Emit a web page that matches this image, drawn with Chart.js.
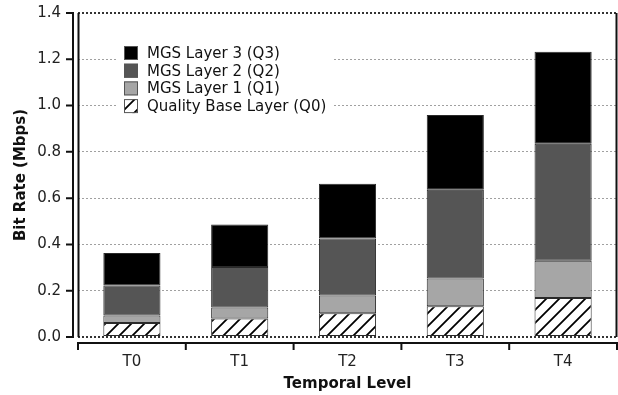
<!DOCTYPE html>
<html>
<head>
<meta charset="utf-8">
<script src="https://cdn.jsdelivr.net/npm/chart.js@4"></script>
<style>
  html, body { margin: 0; padding: 0; background: #fff; }
  #wrap { width: 618px; height: 395px; }
</style>
</head>
<body>
<div id="wrap"><canvas id="chart"></canvas></div>
<script>
  // Chart values (Mbps per layer, stacked bottom to top)
  const levels = ['T0', 'T1', 'T2', 'T3', 'T4'];
  const baseLayerQ0 = [0.060, 0.080, 0.103, 0.133, 0.168];
  const mgsLayerQ1 = [0.033, 0.047, 0.076, 0.120, 0.161];
  const mgsLayerQ2 = [0.129, 0.175, 0.247, 0.383, 0.506];
  const mgsLayerQ3 = [0.141, 0.184, 0.236, 0.323, 0.398];
  const yTicks = [0, 0.2, 0.4, 0.6, 0.8, 1.0, 1.2, 1.4];

  Chart.defaults.font.family = "'DejaVu Sans', sans-serif";
  Chart.defaults.font.size = 15;
  Chart.defaults.color = '#222';

  // Diagonal hatch for the quality base layer
  function makeHatch() {
    const s = 13;
    const c = document.createElement('canvas');
    c.width = s;
    c.height = s;
    const g = c.getContext('2d');
    g.fillStyle = '#fff';
    g.fillRect(0, 0, s, s);
    g.strokeStyle = '#000';
    g.lineWidth = 1.8;
    g.beginPath();
    g.moveTo(0, s); g.lineTo(s, 0);
    g.moveTo(-2, 2); g.lineTo(2, -2);
    g.moveTo(s - 2, s + 2); g.lineTo(s + 2, s - 2);
    g.stroke();
    return document.getElementById('chart').getContext('2d').createPattern(c, 'repeat');
  }
  const hatch = makeHatch();

  // Frame, detached axes and the inset legend
  const framePlugin = {
    id: 'frame',
    afterDraw(chart) {
      const ctx = chart.ctx;
      const { left, right, top, bottom } = chart.chartArea;
      const xs = chart.scales.x;
      const ys = chart.scales.y;
      ctx.save();
      ctx.strokeStyle = '#111';

      // plot box sides
      ctx.lineWidth = 2;
      ctx.beginPath();
      ctx.moveTo(left + 0.5, top);
      ctx.lineTo(left + 0.5, bottom);
      ctx.moveTo(right - 0.5, top);
      ctx.lineTo(right - 0.5, bottom);
      ctx.stroke();

      // y spine with ticks, set off to the left
      const ySpine = left - 5;
      ctx.beginPath();
      ctx.moveTo(ySpine, ys.getPixelForValue(1.4));
      ctx.lineTo(ySpine, ys.getPixelForValue(0));
      yTicks.forEach(v => {
        const py = ys.getPixelForValue(v);
        ctx.moveTo(ySpine - 7, py);
        ctx.lineTo(ySpine + 1, py);
      });
      ctx.stroke();

      // x spine with ticks at category boundaries
      const xSpine = bottom + 6;
      const w = xs.getPixelForValue(1) - xs.getPixelForValue(0);
      ctx.beginPath();
      ctx.moveTo(left, xSpine);
      ctx.lineTo(right, xSpine);
      for (let i = 0; i <= levels.length; i++) {
        const px = xs.getPixelForValue(i) - w / 2;
        ctx.moveTo(px, xSpine - 1);
        ctx.lineTo(px, xSpine + 7);
      }
      ctx.stroke();

      // legend (top layer first)
      const lx = 117, ly = 40;
      ctx.fillStyle = '#fff';
      ctx.fillRect(lx, ly, 216, 78);
      const items = chart.data.datasets.slice().reverse();
      ctx.font = "15px 'DejaVu Sans', sans-serif";
      ctx.textBaseline = 'middle';
      items.forEach((ds, i) => {
        const cy = 53 + i * 17.7;
        ctx.fillStyle = ds.backgroundColor;
        ctx.fillRect(lx + 7, cy - 7, 14, 14);
        ctx.lineWidth = 1;
        ctx.strokeStyle = '#555';
        ctx.strokeRect(lx + 7.5, cy - 6.5, 13, 13);
        ctx.fillStyle = '#111';
        ctx.fillText(ds.label, lx + 30, cy + 1);
      });
      ctx.restore();
    }
  };

  const barStyle = {
    borderColor: '#2a2a2a',
    borderWidth: 1,
    borderSkipped: false,
    barPercentage: 0.53,
    categoryPercentage: 1.0
  };

  new Chart(document.getElementById('chart'), {
    type: 'bar',
    data: {
      labels: levels,
      datasets: [
        Object.assign({ label: 'Quality Base Layer (Q0)', data: baseLayerQ0, backgroundColor: hatch }, barStyle),
        Object.assign({ label: 'MGS Layer 1 (Q1)', data: mgsLayerQ1, backgroundColor: '#a6a6a6' }, barStyle),
        Object.assign({ label: 'MGS Layer 2 (Q2)', data: mgsLayerQ2, backgroundColor: '#555555' }, barStyle),
        Object.assign({ label: 'MGS Layer 3 (Q3)', data: mgsLayerQ3, backgroundColor: '#000000' }, barStyle)
      ]
    },
    options: {
      responsive: true,
      maintainAspectRatio: false,
      animation: false,
      layout: { padding: { top: 13, right: 1, left: 0, bottom: 0 } },
      plugins: {
        legend: { display: false },
        tooltip: { enabled: false }
      },
      scales: {
        x: {
          stacked: true,
          grid: { display: false },
          border: { display: false },
          ticks: { padding: 8.5, color: '#222' },
          title: {
            display: true,
            text: 'Temporal Level',
            font: { weight: 'bold', size: 15 },
            color: '#111',
            padding: { top: 0, bottom: 1.5 }
          },
          afterFit(scale) { scale.height = 58; }
        },
        y: {
          stacked: true,
          min: 0,
          max: 1.4,
          border: { display: false, dash: [2, 2] },
          grid: {
            drawTicks: false,
            color: ctx => (ctx.tick && (ctx.tick.value === 0 || ctx.tick.value === 1.4)) ? '#333' : '#a0a0a0',
            lineWidth: ctx => (ctx.tick && (ctx.tick.value === 0 || ctx.tick.value === 1.4)) ? 2 : 1
          },
          ticks: {
            stepSize: 0.2,
            padding: 17,
            color: '#222',
            callback: v => Number(v).toFixed(1)
          },
          title: {
            display: true,
            text: 'Bit Rate (Mbps)',
            font: { weight: 'bold', size: 15 },
            color: '#111',
            padding: { top: 12, bottom: 0 }
          },
          afterFit(scale) {
            scale.width = 78;
            scale.paddingTop = 0;
            scale.paddingBottom = 0;
          }
        }
      }
    },
    plugins: [framePlugin]
  });
</script>
</body>
</html>
